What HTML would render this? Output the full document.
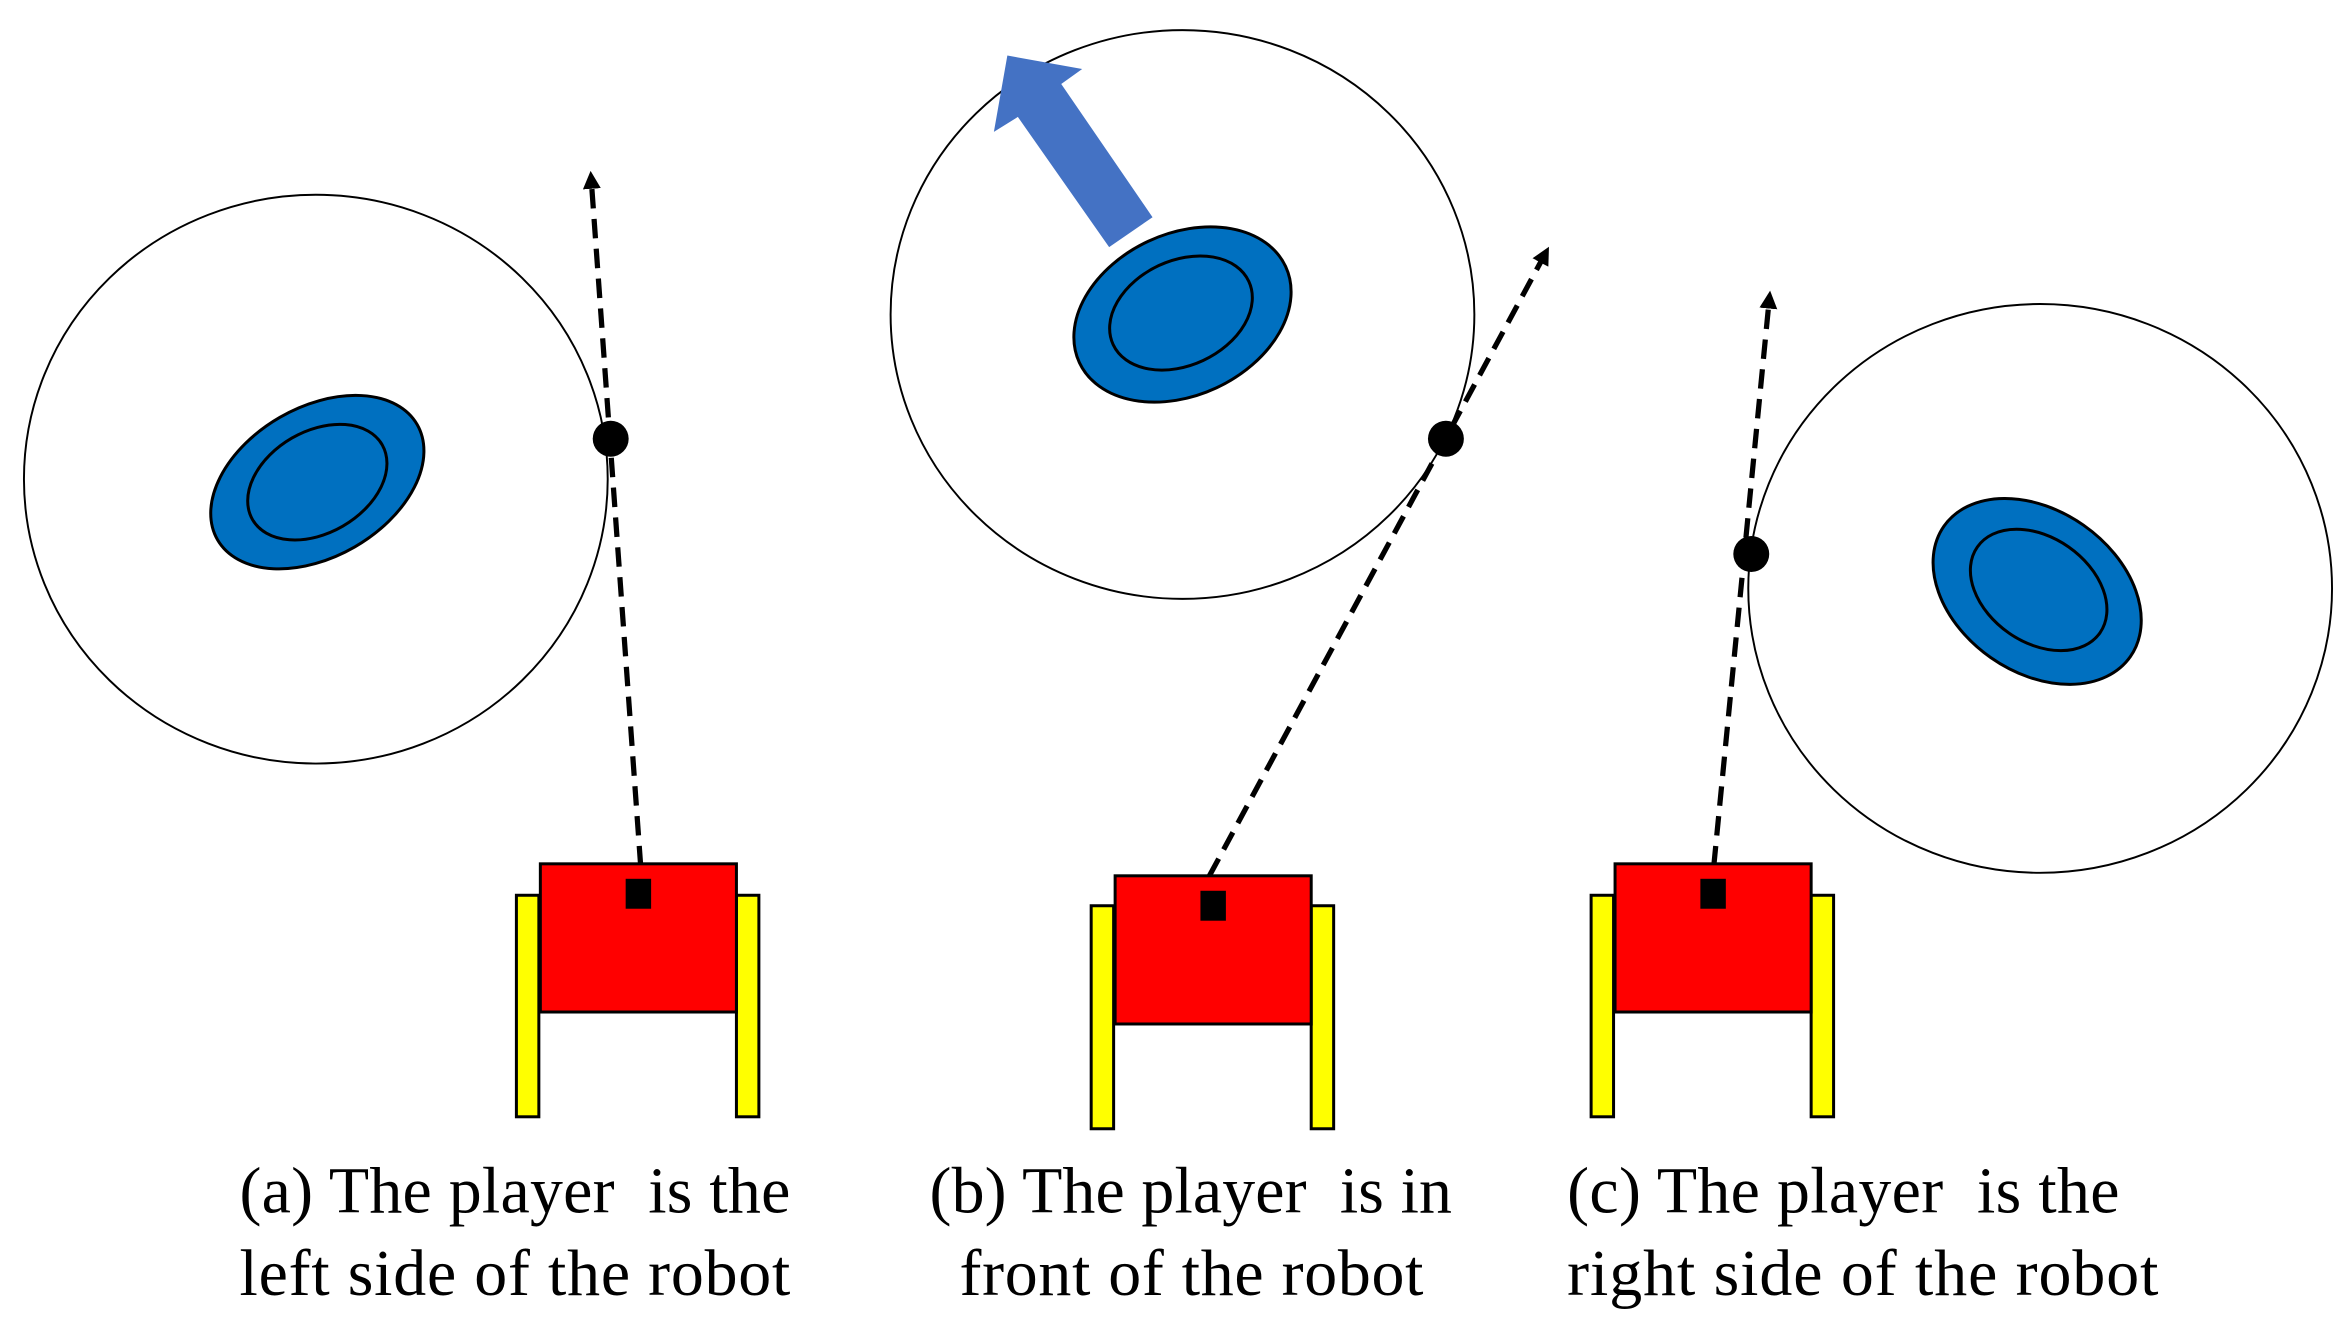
<!DOCTYPE html>
<html><head><meta charset="utf-8"><style>
html,body{margin:0;padding:0;background:#fff}
svg{display:block}
text{font-family:"Liberation Serif",serif;font-size:44px;fill:#000}
</style></head><body>
<svg width="2347" height="1334" viewBox="0 0 1568 891" xmlns="http://www.w3.org/2000/svg">
<defs>
<marker id="ah" markerWidth="12" markerHeight="12" refX="6" refY="6" orient="auto" markerUnits="userSpaceOnUse">
<path d="M0,0 L12,6 L0,12 z" fill="#000"/>
</marker>
</defs>
<g fill="none" stroke="#000" stroke-width="1.3">
<ellipse cx="211" cy="320" rx="195" ry="190"/>
<ellipse cx="790" cy="210" rx="195" ry="190"/>
<ellipse cx="1363" cy="393" rx="195" ry="190"/>
</g>
<g stroke="#000" stroke-width="2" fill="#0070c0">
<ellipse cx="212" cy="322" rx="77" ry="50" transform="rotate(-30 212 322)"/>
<ellipse cx="212" cy="322" rx="50" ry="34" transform="rotate(-30 212 322)"/>
<ellipse cx="790" cy="210" rx="76" ry="54" transform="rotate(-25 790 210)"/>
<ellipse cx="789" cy="209" rx="50" ry="35" transform="rotate(-25 789 209)"/>
<ellipse cx="1361" cy="395" rx="76" ry="54" transform="rotate(35 1361 395)"/>
<ellipse cx="1362" cy="394" rx="50" ry="35" transform="rotate(35 1362 394)"/>
</g>
<polygon points="673,37 723,46 709,56 770,145 741,165 680,78 664,88" fill="#4472c4"/>
<g stroke="#000" stroke-width="3.5" stroke-dasharray="13,7" fill="none" marker-end="url(#ah)">
<line x1="428" y1="578" x2="395" y2="120"/>
<line x1="808" y1="585" x2="1032" y2="170"/>
<line x1="1145" y1="578" x2="1182" y2="200"/>
</g>
<g fill="#000">
<circle cx="408" cy="293" r="12"/>
<circle cx="966" cy="293" r="12"/>
<circle cx="1170" cy="370" r="12"/>
</g>
<g stroke="#000" stroke-width="2">
<rect x="345" y="598" width="15" height="148" fill="#ffff00"/>
<rect x="492" y="598" width="15" height="148" fill="#ffff00"/>
<rect x="361" y="577" width="131" height="99" fill="#ff0000"/>
<rect x="729" y="605" width="15" height="149" fill="#ffff00"/>
<rect x="876" y="605" width="15" height="149" fill="#ffff00"/>
<rect x="745" y="585" width="131" height="99" fill="#ff0000"/>
<rect x="1063" y="598" width="15" height="148" fill="#ffff00"/>
<rect x="1210" y="598" width="15" height="148" fill="#ffff00"/>
<rect x="1079" y="577" width="131" height="99" fill="#ff0000"/>
</g>
<g fill="#000">
<rect x="418" y="587" width="17" height="20"/>
<rect x="802" y="595" width="17" height="20"/>
<rect x="1136" y="587" width="17" height="20"/>
</g>
<g>
<text x="160" y="810" textLength="368" lengthAdjust="spacing" xml:space="preserve">(a) The player  is the</text>
<text x="160" y="865" textLength="368" lengthAdjust="spacing">left side of the robot</text>
<text x="621" y="810" textLength="349" lengthAdjust="spacing" xml:space="preserve">(b) The player  is in</text>
<text x="641" y="865" textLength="310" lengthAdjust="spacing">front of the robot</text>
<text x="1047" y="810" textLength="369" lengthAdjust="spacing" xml:space="preserve">(c) The player  is the</text>
<text x="1047" y="865" textLength="395" lengthAdjust="spacing">right side of the robot</text>
</g>
</svg>
</body></html>
